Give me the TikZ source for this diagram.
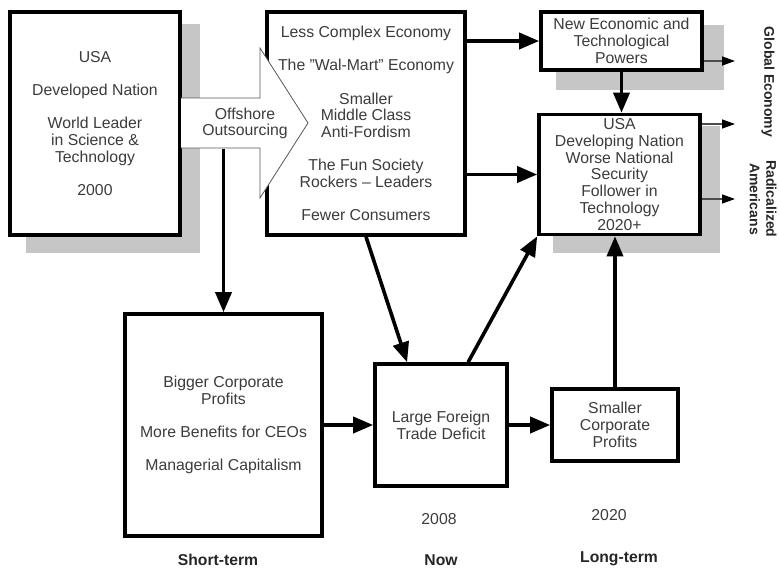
\documentclass[tikz,border=0pt]{standalone}
\usepackage{fontspec}
\setmainfont{Liberation Sans}
\usetikzlibrary{arrows.meta,calc}
\definecolor{txt}{HTML}{3C3C3C}
\definecolor{shade}{HTML}{C6C6C6}
\begin{document}
\begin{tikzpicture}[x=1pt,y=-1pt,
  box/.style={draw=black, line width=3.6pt, fill=white, inner sep=0pt, align=center,
    text=txt, font=\fontsize{15.8}{16.7}\selectfont},
  lbl/.style={text=txt, align=center, inner sep=0pt, font=\fontsize{15.8}{16.7}\selectfont},
  blbl/.style={text=black!85, align=center, inner sep=0pt, font=\bfseries\fontsize{15.7}{16.7}\selectfont},
  rlbl/.style={text=black!85, align=center, inner sep=0pt, rotate=-90, font=\bfseries\fontsize{14}{16.5}\selectfont},
  mainarrow/.style={line width=3.6pt, -{Triangle[length=20pt,width=16pt]}},
  smallarrow/.style={draw=black!70, line width=1.4pt, -{Triangle[length=13pt,width=9pt,fill=black,color=black]}},
  shadowfill/.style={fill=shade},
  bigarrow/.style={draw=black!65, line width=0.8pt, fill=white, line join=miter}
]
\useasboundingbox (0,0) rectangle (779,570);

% shadows
\fill[shadowfill] (26,24) rectangle (200,253);
\fill[shadowfill] (556,25) rectangle (724,90);
\fill[shadowfill] (553,126) rectangle (720,253);

% boxes
\node[box, minimum width=170pt, minimum height=223pt] (A) at (95,123.5)
  {USA\\[16.5pt] Developed Nation\\[16.5pt] World Leader\\in Science \&\\Technology\\[16.5pt] 2000};
\node[box, minimum width=198pt, minimum height=223pt] (B) at (366,123.5)
  {Less Complex Economy\\[16.5pt] The \symbol{34}Wal-Mart\symbol{34} Economy\\[16.5pt] Smaller\\Middle Class\\Anti-Fordism\\[16.5pt] The Fun Society\\Rockers – Leaders\\[16.5pt] Fewer Consumers};
\node[box, minimum width=197pt, minimum height=222pt] (C) at (223.5,425)
  {Bigger Corporate\\Profits\\[16.5pt] More Benefits for CEOs\\[16.5pt] Managerial Capitalism};
\node[box, minimum width=132pt, minimum height=122pt] (D) at (441,425)
  {Large Foreign\\Trade Deficit};
\node[box, minimum width=126pt, minimum height=72pt] (E) at (615,425)
  {Smaller\\Corporate\\Profits};
\node[box, minimum width=161pt, minimum height=58pt] (F) at (621.5,41)
  {New Economic and\\Technological\\Powers};
\node[box, minimum width=161pt, minimum height=120pt] (G) at (619.5,174.5)
  {USA\\Developing Nation\\Worse National\\Security\\Follower in\\Technology\\2020+};

% big outsourcing arrow
\draw[bigarrow] (181,98) -- (260,98) -- (260,48) -- (308,123) -- (260,198) -- (260,148) -- (181,148);
\node[lbl] (off) at (245,123.5) {Offshore\\Outsourcing};
\coordinate (offb) at (223.5,149);

% main connectors
\draw[mainarrow] (B.east |- F.west) -- (F.west);
\draw[mainarrow] (B.east |- G.west) -- (G.west);
\draw[mainarrow] (F.south) -- (F.south |- G.north);
\draw[mainarrow] (E.north) -- (E.north |- G.south);
\draw[mainarrow] ($(D.north west)!0.70!(D.north east)$) -- (G.south west);
\draw[mainarrow] (B.south) -- ($(D.north west)!0.25!(D.north east)$);
\draw[mainarrow] (C.east) -- (D.west);
\draw[mainarrow] (D.east) -- (E.west);
\draw[mainarrow] (offb) -- (C.north);

% small outgoing arrows
\coordinate (t1) at (735,61);
\coordinate (t2) at (735,124);
\coordinate (t3) at (735,199);
\draw[smallarrow] (t1 -| F.east) -- (t1);
\draw[smallarrow] (t2 -| G.east) -- (t2);
\draw[smallarrow] (t3 -| G.east) -- (t3);

% side labels
\node[rlbl] (ge) at (768,82) {Global Economy};
\node[rlbl] (ra) at (763,199) {Radicalized\\Americans};

% bottom labels
\node[lbl] (y08) at (439,519) {2008};
\node[lbl] (y20) at (609,515) {2020};
\node[blbl] (st) at (218,560) {Short-term};
\node[blbl] (now) at (441,560) {Now};
\node[blbl] (lt) at (619,559) {Long-term};
\end{tikzpicture}
\end{document}
